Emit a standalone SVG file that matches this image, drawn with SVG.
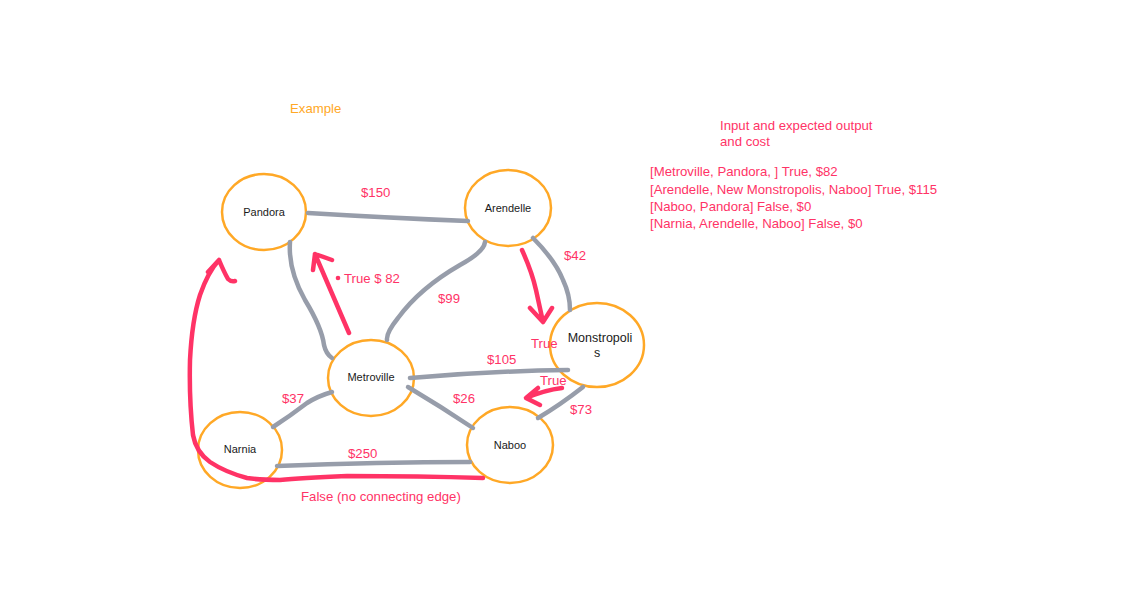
<svg xmlns="http://www.w3.org/2000/svg" width="1140" height="605" viewBox="0 0 1140 605">
<defs>
<style>
.node{fill:#fff;stroke:#FFA826;stroke-width:2.5}
.lbl{font-family:"Liberation Sans",Arial,sans-serif;font-size:11px;fill:#1a1a1a;text-anchor:middle}
.big{font-size:12.5px}
.edge{fill:none;stroke:#979DAA;stroke-width:4.5;stroke-linecap:round;stroke-linejoin:round}
.red{fill:none;stroke:#FF3366;stroke-width:4.5;stroke-linecap:round;stroke-linejoin:round}
.pt{font-family:"Liberation Sans",Arial,sans-serif;font-size:13.2px;fill:#FF3366}
.ot{font-family:"Liberation Sans",Arial,sans-serif;font-size:13.2px;fill:#FFA826}
</style>
</defs>
<rect width="1140" height="605" fill="#fff"/>
<text class="ot" x="290" y="113">Example</text>
<g id="legend">
<text class="pt" x="720" y="130">Input and expected output</text>
<text class="pt" x="720" y="146">and cost</text>
<text class="pt" x="650" y="176">[Metroville, Pandora, ] True, $82</text>
<text class="pt" x="650" y="194">[Arendelle, New Monstropolis, Naboo] True, $115</text>
<text class="pt" x="650" y="211">[Naboo, Pandora] False, $0</text>
<text class="pt" x="650" y="228">[Narnia, Arendelle, Naboo] False, $0</text>
</g>
<g id="pandora"><ellipse class="node" cx="264" cy="212" rx="42" ry="38"/><text class="lbl" x="264" y="216">Pandora</text></g>
<g id="arendelle"><ellipse class="node" cx="508" cy="208" rx="43" ry="38"/><text class="lbl" x="508" y="212">Arendelle</text></g>
<g id="monstropolis"><ellipse class="node" cx="597" cy="345" rx="47" ry="42"/><text class="lbl big" x="600" y="342">Monstropoli</text><text class="lbl big" x="597" y="357">s</text></g>
<g id="metroville"><ellipse class="node" cx="371" cy="378" rx="43" ry="38"/><text class="lbl" x="371" y="381">Metroville</text></g>
<g id="narnia"><ellipse class="node" cx="240" cy="450" rx="42" ry="38"/><text class="lbl" x="240" y="453">Narnia</text></g>
<g id="naboo"><ellipse class="node" cx="510" cy="445" rx="43" ry="38"/><text class="lbl" x="510" y="449">Naboo</text></g>
<g id="connectors">
<path class="edge" d="M308,213 Q390,218 468,221"/>
<path class="edge" d="M290,242 Q288,270 305,300 Q322,328 324,345 Q326,354 332,358"/>
<path class="edge" d="M485,242 Q484,252 460,265 Q420,288 398,318 Q386,333 387,340"/>
<path class="edge" d="M533,238 Q555,260 563,280 Q570,295 570,310"/>
<path class="edge" d="M410,378 Q490,371 568,370"/>
<path class="edge" d="M408,387 Q440,406 473,428"/>
<path class="edge" d="M332,392 Q318,396 307,403 Q290,416 273,427"/>
<path class="edge" d="M277,466 Q380,462 470,462"/>
<path class="edge" d="M583,387 Q560,405 538,418"/>
<path class="red" d="M349,333 L315,254 M313,270 L315,254 L332,260"/>
<path class="red" d="M522,250 Q532,272 536,290 Q540,308 543,322 M530,308 L543,322 L552,308"/>
<path class="red" d="M562,388 Q545,390 526,398 M538,388 L526,398 L540,405"/>
<path class="red" d="M483,478 Q420,476 347,476 Q300,478 280,480 Q260,480 247,478 Q225,472 210,462 Q196,452 193,435 Q189,400 190,360 Q192,320 200,295 Q208,272 219,260 M208,272 L219,260 Q224,272 228,279 Q231,282 235,281"/>
<text class="pt" x="361" y="197">$150</text>
<circle cx="338" cy="278" r="2.3" fill="#FF3366"/>
<text class="pt" x="344" y="283">True $ 82</text>
<text class="pt" x="438" y="303">$99</text>
<text class="pt" x="564" y="260">$42</text>
<text class="pt" x="531" y="348">True</text>
<text class="pt" x="487" y="364">$105</text>
<text class="pt" x="540" y="385">True</text>
<text class="pt" x="570" y="414">$73</text>
<text class="pt" x="282" y="403">$37</text>
<text class="pt" x="453" y="403">$26</text>
<text class="pt" x="348" y="458">$250</text>
<text class="pt" x="301" y="501">False (no connecting edge)</text>
</g>
</svg>
